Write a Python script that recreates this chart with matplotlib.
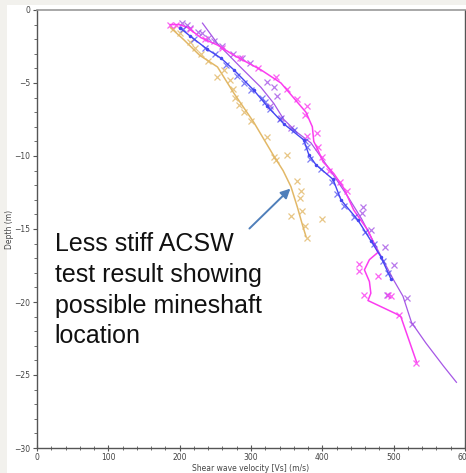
import matplotlib
matplotlib.use('Agg')
import matplotlib.pyplot as plt
from matplotlib.patches import Rectangle
from matplotlib.ticker import MultipleLocator

# gold - less stiff test
gold_line_x = [187, 205, 228, 253, 276, 304, 332, 345, 356, 365, 372, 377]
gold_line_y = [-1.2, -2.0, -3.1, -3.9, -5.7, -7.7, -10.0, -11.0, -12.1, -13.5, -14.7, -15.5]
gold_pts_x = [190, 200, 215, 222, 230, 240, 253, 262, 271, 275, 278, 283, 290, 300, 322, 332,
              351, 335, 365, 370, 369, 372, 356, 399, 375, 378]
gold_pts_y = [-1.3, -1.6, -2.2, -2.6, -3.0, -3.5, -4.6, -4.1, -4.8, -5.4, -6.0, -6.5, -7.0, -7.6, -8.7, -10.1,
              -9.9, -10.3, -11.7, -12.4, -12.9, -13.8, -14.1, -14.3, -14.8, -15.6]

# blue
blue_line_x = [201, 215, 239, 258, 276, 304, 323, 346, 374, 381, 391, 415, 426, 450, 468, 482, 496]
blue_line_y = [-1.25, -1.8, -2.7, -3.3, -4.1, -5.5, -6.6, -7.8, -8.9, -9.9, -10.6, -11.6, -13.0, -14.4, -15.8, -16.9, -18.4]
blue_pts_x = [205, 220, 235, 250, 265, 280, 290, 300, 315, 320, 326, 340, 360, 375, 378, 383, 398,
              413, 420, 430, 445, 460, 472, 485, 492]
blue_pts_y = [-1.3, -2.0, -2.6, -3.0, -3.8, -4.5, -5.0, -5.5, -6.0, -6.3, -6.8, -7.5, -8.2, -9.0, -9.4, -10.2, -10.9,
              -11.8, -12.6, -13.4, -14.2, -15.2, -16.0, -17.2, -18.0]

# purple
purple_line_x = [232, 253, 285, 314, 332, 346, 365, 384, 410, 436, 455, 473, 487, 500, 513, 525, 545, 570, 588]
purple_line_y = [-0.9, -2.3, -3.9, -5.3, -6.4, -7.5, -8.4, -9.1, -10.9, -12.8, -14.3, -16.0, -17.3, -18.5, -19.6,
                 -21.4, -22.8, -24.4, -25.5]
purple_pts_x = [203, 210, 215, 225, 232, 240, 248, 260, 275, 287, 298, 323, 332, 337, 327, 342, 356,
                457, 456, 468, 488, 501, 491, 518, 525]
purple_pts_y = [-0.9, -1.0, -1.2, -1.5, -1.6, -1.9, -2.1, -2.5, -3.0, -3.3, -3.6, -4.9, -5.3, -5.9, -6.6, -7.4, -8.1,
                -13.5, -13.9, -15.1, -16.2, -17.5, -19.5, -19.7, -21.5]

# magenta
magenta_line_x = [187, 200, 211, 230, 253, 276, 314, 342, 363, 377, 386, 388, 394, 401, 416, 430, 444, 464,
                  478, 466, 459, 466, 468, 464, 503, 510, 532]
magenta_line_y = [-1.0, -1.0, -1.2, -1.9, -2.4, -3.1, -4.1, -5.0, -6.2, -7.0, -8.0, -9.0, -9.6, -10.4, -11.2,
                  -12.2, -13.7, -15.1, -16.6, -17.1, -17.8, -18.6, -19.4, -19.9, -20.8, -21.0, -24.1]
magenta_pts_x = [187, 195, 215, 235, 260, 285, 310, 335, 351, 365, 378, 375, 392, 379, 394, 400, 410, 425,
                 435, 452, 452, 458, 478, 492, 496, 508, 532]
magenta_pts_y = [-1.0, -1.0, -1.3, -2.0, -2.6, -3.3, -4.0, -4.6, -5.4, -6.1, -6.6, -7.2, -8.4, -8.6, -9.4, -10.1,
                 -11.0, -11.8, -12.4, -17.4, -17.9, -19.5, -18.2, -19.5, -19.6, -20.9, -24.2]

note = 'Less stiff ACSW\ntest result showing\npossible mineshaft\nlocation'

fig = plt.figure(figsize=(4.66, 4.73), dpi=100)
fig.patch.set_facecolor('white')
# grey frame bands at the left and top of the screenshot
fig.patches.append(Rectangle((0, 0), 7 / 466, 1, transform=fig.transFigure,
                             facecolor='#f2f1ed', edgecolor='none', zorder=-1))
fig.patches.append(Rectangle((0, 1 - 5 / 473), 1, 5 / 473, transform=fig.transFigure,
                             facecolor='#f2f1ed', edgecolor='none', zorder=-1))
ax = fig.add_axes([37 / 466, 25 / 473, 428 / 466, 438 / 473])

gold = '#e2b867'
blue = '#4646f2'
purple = '#a657e6'
magenta = '#fb3cf0'

ax.plot(gold_line_x, gold_line_y, color=gold, lw=1.1)
ax.plot(gold_pts_x, gold_pts_y, 'x', color=gold, ms=4, mew=0.9, alpha=0.8)
ax.plot(purple_line_x, purple_line_y, color=purple, lw=0.9)
ax.plot(purple_pts_x, purple_pts_y, 'x', color=purple, ms=4, mew=0.9, alpha=0.8)
ax.plot(magenta_line_x, magenta_line_y, color=magenta, lw=1.1)
ax.plot(magenta_pts_x, magenta_pts_y, 'x', color=magenta, ms=4, mew=0.9, alpha=0.8)
ax.plot(blue_line_x, blue_line_y, color=blue, lw=1.0, marker='.', ms=3)
ax.plot(blue_pts_x, blue_pts_y, 'x', color=blue, ms=4, mew=0.9, alpha=0.7)

ax.set_xlim(0, 600)
ax.set_ylim(-30, 0)
ax.xaxis.set_major_locator(MultipleLocator(100))
ax.xaxis.set_minor_locator(MultipleLocator(20))
ax.yaxis.set_major_locator(MultipleLocator(5))
ax.yaxis.set_minor_locator(MultipleLocator(1))
ax.tick_params(axis='both', which='both', labelsize=5.5, labelcolor='#444444', color='#555555')
ax.tick_params(axis='x', which='major', direction='inout', length=5, width=0.8, pad=1)
ax.tick_params(axis='x', which='minor', direction='inout', length=3, width=0.6)
ax.tick_params(axis='y', which='major', direction='out', length=3, width=0.8, pad=2)
ax.tick_params(axis='y', which='minor', direction='out', length=2, width=0.6)
for s in ['left', 'bottom', 'right']:
    ax.spines[s].set_color('#555555')
    ax.spines[s].set_linewidth(1.0)
ax.spines['top'].set_color('#999999')
ax.spines['top'].set_linewidth(1.2)
ax.set_xlabel('Shear wave velocity [Vs] (m/s)', fontsize=5.5, color='#444444')
ax.xaxis.set_label_coords(0.5, -0.036)
ax.set_ylabel('Depth (m)', fontsize=5.5, color='#444444')
ax.yaxis.set_label_coords(-0.054, 0.5)

ax.text(25, -15.2, note, fontsize=18, family='Liberation Sans', va='top', ha='left',
        linespacing=1.36, color='#111111')
ax.annotate('', xy=(358, -12.1), xytext=(295, -15.1),
            arrowprops=dict(arrowstyle='-|>', color='#4f7fba', lw=1.4, mutation_scale=14))

fig.savefig('out.png', dpi=100, facecolor=fig.get_facecolor())
